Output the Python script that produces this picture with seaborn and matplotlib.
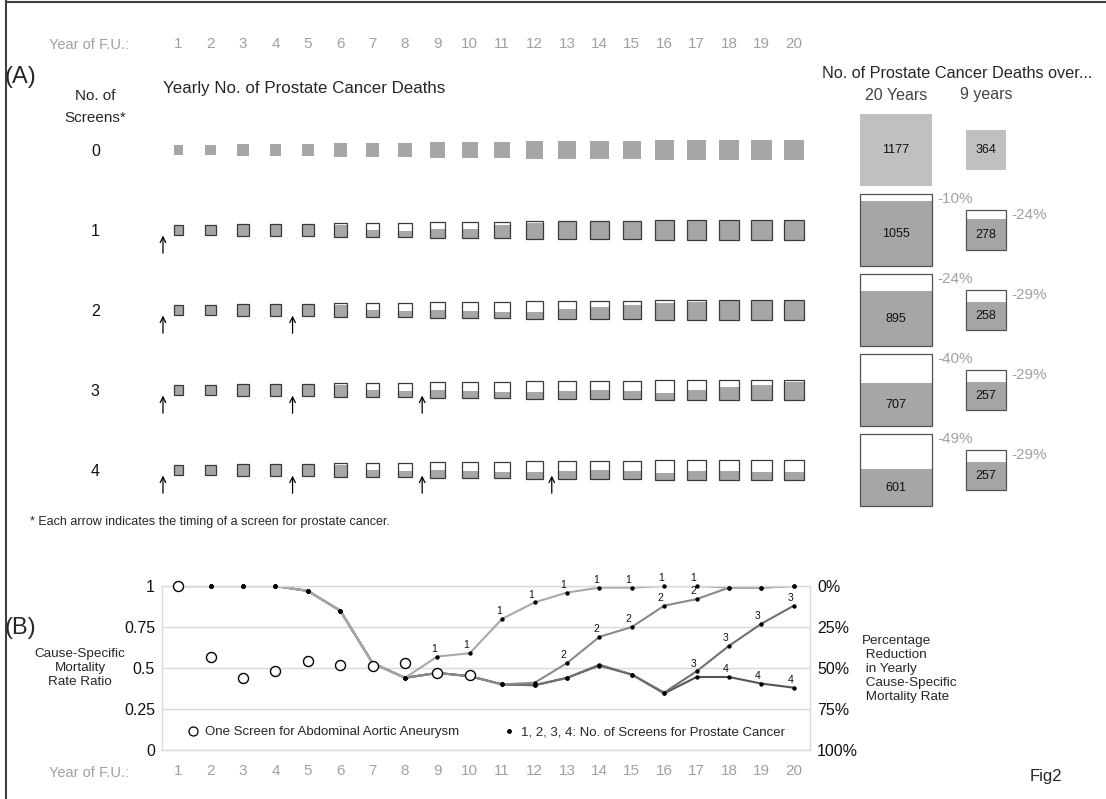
import numpy as np
import pandas as pd
import matplotlib
matplotlib.use("Agg")
import matplotlib.pyplot as plt
from matplotlib.patches import Rectangle
from matplotlib.lines import Line2D
import seaborn as sns

# ---- data ----
years = list(range(1, 21))
# yearly prostate cancer deaths without screening (square area)
deaths_no_screen = [19, 24, 29, 29, 34, 40, 40, 47, 54, 60,
                    60, 68, 68, 76, 76, 85, 85, 94, 94, 94]

# cause-specific mortality rate ratio by no. of screens
ratio_1 = [1, 1, 1, 1, 0.97, 0.85, 0.53, 0.44, 0.57, 0.59,
           0.80, 0.90, 0.96, 0.99, 0.99, 1.0, 1.0, 0.99, 0.99, 1.0]
ratio_2 = [1, 1, 1, 1, 0.97, 0.85, 0.53, 0.44, 0.47, 0.45,
           0.40, 0.41, 0.53, 0.69, 0.75, 0.88, 0.92, 0.99, 0.99, 1.0]
ratio_3 = [1, 1, 1, 1, 0.97, 0.85, 0.53, 0.44, 0.47, 0.45,
           0.40, 0.395, 0.44, 0.52, 0.46, 0.35, 0.48, 0.635, 0.77, 0.88]
ratio_4 = [1, 1, 1, 1, 0.97, 0.85, 0.53, 0.44, 0.47, 0.45,
           0.40, 0.395, 0.44, 0.515, 0.46, 0.345, 0.445, 0.445, 0.405, 0.38]

# one screen for abdominal aortic aneurysm
aaa_years = list(range(1, 11))
aaa_ratio = [1.0, 0.57, 0.44, 0.48, 0.54, 0.52, 0.51, 0.53, 0.47, 0.46]

n_screens = [0, 1, 2, 3, 4]
screen_years = [1, 5, 9, 13]
periods = ['20 Years', '9 years']
total_20y = [1177, 1055, 895, 707, 601]
total_9y = [364, 278, 258, 257, 257]

# where the small series numbers are printed in panel B
label_years = {1: range(9, 18), 2: range(13, 18), 3: range(17, 21), 4: range(18, 21)}

ratios = {1: ratio_1, 2: ratio_2, 3: ratio_3, 4: ratio_4}

# ---- style ----
sns.set_theme(style='white')
plt.rcParams['font.family'] = ['Liberation Sans', 'DejaVu Sans']

W, H = 1106, 799
fig = plt.figure(figsize=(W / 100, H / 100), dpi=100)
GREY_TXT = '#a0a0a0'
FILL = '#a6a6a6'


def box(l, t, r, b):
    return [l / W, 1 - b / H, (r - l) / W, (b - t) / H]


def px(x, y):
    return x / W, 1 - y / H


K = 2.1     # px per sqrt(death), yearly squares
K_T = 2.12  # px per sqrt(death), total boxes
ROW0, ROW_STEP = 150, 80
A_TOP, A_BOT = 55, 510
AX_L, AX_R = 162, 810
x_scale = (AX_R - AX_L) / 20.0

# ---- panel A: yearly squares ----
ax_a = fig.add_axes(box(AX_L, A_TOP, AX_R, A_BOT))
ax_a.set_xlim(0.5, 20.5)
ax_a.set_ylim((A_BOT - ROW0) / ROW_STEP, (A_TOP - ROW0) / ROW_STEP)
for s in ax_a.spines.values():
    s.set_visible(False)
ax_a.xaxis.tick_top()
ax_a.set_xticks(years)
ax_a.tick_params(axis='x', length=0, pad=3, labelsize=11, labelcolor=GREY_TXT)
ax_a.set_yticks(n_screens)
ax_a.set_yticklabels([str(n) for n in n_screens], ha='center')
ax_a.tick_params(axis='y', length=0, pad=48, labelsize=11.5, labelcolor='#111111')

for yr, d in zip(years, deaths_no_screen):
    side = K * np.sqrt(d)
    w, h = side / x_scale, side / ROW_STEP
    ax_a.add_patch(Rectangle((yr - w / 2, 0 - h / 2), w, h, facecolor=FILL, edgecolor='none'))
    for n in n_screens[1:]:
        r = ratios[n][yr - 1]
        ax_a.add_patch(Rectangle((yr - w / 2, n + h / 2), w, -h * r,
                                 facecolor=FILL, edgecolor='none'))
        ax_a.add_patch(Rectangle((yr - w / 2, n - h / 2), w, h, fill=False,
                                 edgecolor='#3a3a3a', lw=0.9))

for n in n_screens[1:]:
    for s in screen_years[:n]:
        ax_a.annotate('', xy=(s - 0.47, n + 0.07), xytext=(s - 0.47, n + 0.29),
                      arrowprops=dict(arrowstyle='->', lw=0.9, color='black',
                                      shrinkA=0, shrinkB=0, mutation_scale=10))

# ---- panel A: totals ----
T_L, T_R = 820, 1100
C0, C_STEP = 896, 90
ax_t = fig.add_axes(box(T_L, A_TOP, T_R, A_BOT))
ax_t.set_xlim((T_L - C0) / C_STEP, (T_R - C0) / C_STEP)
ax_t.set_ylim(ax_a.get_ylim())
ax_t.axis('off')

for ci, totals in enumerate([total_20y, total_9y]):
    base = totals[0]
    side = K_T * np.sqrt(base)
    w, h = side / C_STEP, side / ROW_STEP
    ax_t.add_patch(Rectangle((ci - w / 2, -h / 2), w, h, facecolor='#c0c0c0', edgecolor='none'))
    ax_t.text(ci, 0, str(base), ha='center', va='center', fontsize=9, color='#111111')
    for n, v in zip(n_screens[1:], totals[1:]):
        frac = v / base
        ax_t.add_patch(Rectangle((ci - w / 2, n + h / 2), w, -h * frac,
                                 facecolor=FILL, edgecolor='none'))
        ax_t.add_patch(Rectangle((ci - w / 2, n - h / 2), w, h, fill=False,
                                 edgecolor='#505050', lw=0.9))
        ax_t.text(ci, n + h / 2 - h * frac / 2, str(v), ha='center', va='center',
                  fontsize=9, color='#111111')
        pct = round((frac - 1) * 100)
        ax_t.text(ci + w / 2 + 5 / C_STEP, n - h / 2 + 5 / ROW_STEP, f'{pct}%',
                  ha='left', va='center', fontsize=11, color=GREY_TXT)
    ax_t.text(ci, (95 - ROW0) / ROW_STEP, periods[ci], ha='center', va='center',
              fontsize=11.5, color='#444444')

# ---- panel B ----
B_TOP, B_BOT = 586, 750
ax_b = fig.add_axes(box(AX_L, B_TOP, AX_R, B_BOT))

df_lines = pd.DataFrame({
    'year': years * 4,
    'ratio': ratio_1 + ratio_2 + ratio_3 + ratio_4,
    'screens': sum([[n] * 20 for n in [1, 2, 3, 4]], []),
})
pal = {1: '#a8a8a8', 2: '#8a8a8a', 3: '#707070', 4: '#555555'}
sns.lineplot(data=df_lines, x='year', y='ratio', hue='screens', palette=pal,
             hue_order=[4, 3, 2, 1], lw=1.5, legend=False, ax=ax_b)
sns.scatterplot(data=df_lines, x='year', y='ratio', color='black', s=10,
                linewidth=0, legend=False, ax=ax_b, zorder=5, clip_on=False)
sns.scatterplot(x=aaa_years, y=aaa_ratio, color='white', edgecolor='black',
                s=52, linewidth=1, ax=ax_b, zorder=6, clip_on=False)

for n, yrs in label_years.items():
    for yr in yrs:
        ax_b.annotate(str(n), (yr, ratios[n][yr - 1]), xytext=(-2.5, 2),
                      textcoords='offset points', ha='center', va='bottom',
                      fontsize=7.5, color='#111111')

ax_b.set_xlim(0.5, 20.5)
ax_b.set_ylim(0, 1)
ax_b.set_xticks(years)
ax_b.set_yticks([0, 0.25, 0.5, 0.75, 1])
ax_b.set_yticklabels(['0', '0.25', '0.5', '0.75', '1'])
ax_b.set_xlabel('')
ax_b.set_ylabel('')
ax_b.yaxis.grid(True, color='#d9d9d9', lw=1)
ax_b.xaxis.grid(False)
for s in ax_b.spines.values():
    s.set_color('#d9d9d9')
    s.set_linewidth(1)
ax_b.tick_params(axis='x', length=0, pad=10, labelsize=11, labelcolor=GREY_TXT)
ax_b.tick_params(axis='y', length=0, pad=5, labelsize=11.5, labelcolor='#111111')

ax_r = ax_b.twinx()
ax_r.set_ylim(1, 0)
ax_r.set_yticks([0, 0.25, 0.5, 0.75, 1])
ax_r.set_yticklabels(['0%', '25%', '50%', '75%', '100%'])
ax_r.tick_params(axis='y', length=0, pad=5, labelsize=11.5, labelcolor='#111111')
ax_r.grid(False)
for s in ax_r.spines.values():
    s.set_visible(False)

handles = [
    Line2D([], [], marker='o', ls='', mfc='white', mec='black', ms=6.5, mew=0.9),
    Line2D([], [], marker='o', ls='', mfc='black', mec='black', ms=2.5),
]
ax_b.legend(handles, ['One Screen for Abdominal Aortic Aneurysm',
                      '1, 2, 3, 4: No. of Screens for Prostate Cancer'],
            ncol=2, loc='lower center', bbox_to_anchor=(0.5, 0.0), frameon=False,
            fontsize=9.5, columnspacing=3.3, handletextpad=0.4, handlelength=1)

# ---- text ----
fig.text(*px(129, 45), 'Year of F.U.:', ha='right', va='center', fontsize=10.5, color=GREY_TXT)
fig.text(*px(129, 773), 'Year of F.U.:', ha='right', va='center', fontsize=10.5, color=GREY_TXT)
fig.text(*px(4, 77), '(A)', ha='left', va='center', fontsize=17)
fig.text(*px(4, 628), '(B)', ha='left', va='center', fontsize=17)
fig.text(*px(95, 107), 'No. of\nScreens*', ha='center', va='center', fontsize=11,
         linespacing=1.65)
fig.text(*px(163, 89), 'Yearly No. of Prostate Cancer Deaths', ha='left', va='center',
         fontsize=12.2)
fig.text(*px(822, 74), 'No. of Prostate Cancer Deaths over...', ha='left', va='center',
         fontsize=11.7)
fig.text(*px(30, 522), '* Each arrow indicates the timing of a screen for prostate cancer.',
         ha='left', va='center', fontsize=9)
fig.text(*px(80, 668), 'Cause-Specific\nMortality\nRate Ratio', ha='center', va='center',
         fontsize=9.7, linespacing=1.2)
fig.text(*px(862, 669), 'Percentage\n Reduction\n in Yearly\n Cause-Specific\n Mortality Rate',
         ha='left', va='center', fontsize=9.7, linespacing=1.2)
fig.text(*px(1030, 777), 'Fig2', ha='left', va='center', fontsize=12)

# frame lines
fig.add_artist(Line2D([6 / W, 6 / W], [0, 1], color='#404040', lw=1.5))
fig.add_artist(Line2D([6 / W, 1], [1 - 2 / H, 1 - 2 / H], color='#404040', lw=1.5))

fig.savefig('out.png', dpi=100, facecolor='white')
